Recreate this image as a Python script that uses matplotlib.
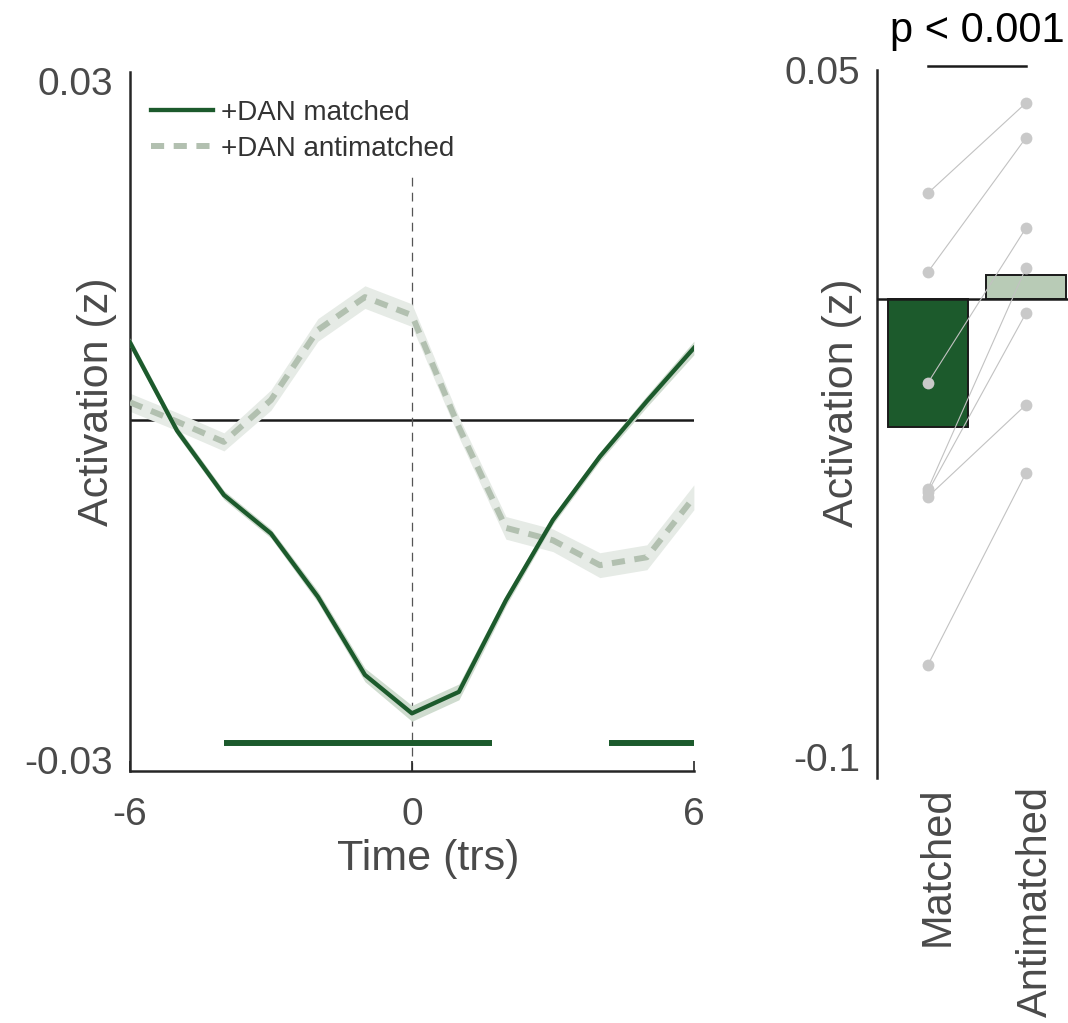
import matplotlib
matplotlib.use('Agg')
import matplotlib.pyplot as plt
import matplotlib.transforms as mtransforms
import numpy as np

plt.rcParams['font.family'] = ['Liberation Sans', 'DejaVu Sans']

# ---------------- data ----------------
time_trs = [-6, -5, -4, -3, -2, -1, 0, 1, 2, 3, 4, 5, 6]
matched = [0.0069, -0.0009, -0.0066, -0.0100, -0.0156, -0.0225, -0.0259,
           -0.0240, -0.0159, -0.0088, -0.0032, 0.0017, 0.0064]
matched_sem = [0.0004, 0.0004, 0.0004, 0.0004, 0.0005, 0.0006, 0.0007,
               0.0007, 0.0005, 0.0004, 0.0004, 0.0005, 0.0006]
antimatched = [0.0016, -0.0001, -0.0019, 0.0018, 0.0080, 0.0109, 0.0093,
               -0.0006, -0.0095, -0.0106, -0.0128, -0.0121, -0.0068]
antimatched_sem = [0.0008, 0.0008, 0.0008, 0.0009, 0.0010, 0.0010, 0.0010,
                   0.0009, 0.0010, 0.0010, 0.0011, 0.0011, 0.0011]
sig_segments = [(-4.0, 1.7), (4.2, 6.0)]
sig_level = -0.0285
legend_labels = ['+DAN matched', '+DAN antimatched']

bar_labels = ['Matched', 'Antimatched']
subj_matched = [0.0231, 0.0059, -0.0183, -0.0415, -0.0421, -0.0432, -0.0799]
subj_antimatched = [0.0428, 0.0352, 0.0155, 0.0068, -0.0031, -0.0231, -0.0380]
p_text = 'p < 0.001'

# ---------------- style ----------------
DARK = '#1c5a2c'
LIGHT = '#b2c0b0'
BAND_D = '#cfdccf'
BAND_L = '#e6ebe6'
TXT = '#4a4a4a'
SPINE = '#262626'
FS_TICK = 28
FS_LAB = 31

fig = plt.figure(figsize=(10.68, 10.23), dpi=100)

# ---------------- left panel ----------------
ax1 = fig.add_axes([0.1217, 0.2463, 0.528, 0.6833])
t = np.array(time_trs)
m = np.array(matched); ms = np.array(matched_sem)
a = np.array(antimatched); as_ = np.array(antimatched_sem)

ax1.set_xlim(-6, 6)
ax1.set_ylim(-0.031, 0.0308)

ax1.axhline(0, color='#1a1a1a', lw=1.8, zorder=1)
ax1.vlines(0, -0.031, 0.0215, colors='#555555', lw=0.9,
           linestyles=(0, (7, 5)), zorder=1)

ax1.fill_between(t, a - as_, a + as_, color=BAND_L, lw=0, zorder=2)
ax1.plot(t, a, color=LIGHT, lw=4.3, dashes=(2.2, 1.6), zorder=3,
         label=legend_labels[1], solid_capstyle='butt')
ax1.fill_between(t, m - ms, m + ms, color=BAND_D, lw=0, zorder=4)
ax1.plot(t, m, color=DARK, lw=3.1, zorder=5, label=legend_labels[0])

for s0, s1 in sig_segments:
    ax1.hlines(sig_level, s0, s1, colors=DARK, lw=4.3, zorder=5)

h, l = ax1.get_legend_handles_labels()
leg = ax1.legend([h[1], h[0]], [l[1], l[0]], loc='upper left',
                 bbox_to_anchor=(0.038, 0.960), frameon=False, fontsize=20,
                 handlelength=2.2, handletextpad=0.3, labelspacing=0.35,
                 borderpad=0, borderaxespad=0)
for txt in leg.get_texts():
    txt.set_color('#333333')

ax1.set_xticks([-6, 0, 6])
ax1.set_xticklabels(['-6', '0', '6'])
ax1.set_yticks([-0.03, 0.03])
ax1.set_yticklabels(['-0.03', '0.03'])
ax1.tick_params(axis='x', direction='in', length=7, width=1.2, pad=19,
                labelsize=FS_TICK, labelcolor=TXT, color=SPINE)
ax1.tick_params(axis='y', direction='in', length=0, pad=12,
                labelsize=FS_TICK, labelcolor=TXT)
for sp in ['top', 'right']:
    ax1.spines[sp].set_visible(False)
for sp in ['left', 'bottom']:
    ax1.spines[sp].set_linewidth(1.8)
    ax1.spines[sp].set_color(SPINE)
ax1.set_xlabel('Time (trs)', fontsize=FS_LAB, color=TXT)
ax1.xaxis.set_label_coords(0.528, -0.097)
ax1.set_ylabel('Activation (z)', fontsize=FS_LAB, color=TXT)
ax1.yaxis.set_label_coords(-0.023, 0.528)

# ---------------- right panel ----------------
ax2 = fig.add_axes([0.8211, 0.2395, 0.1789, 0.6921])
ax2.set_xlim(0.4796, 2.4286)
ax2.set_ylim(-0.1046, 0.05)
xpos = np.array([1, 2])
means = [np.mean(subj_matched), np.mean(subj_antimatched)]
ax2.bar(xpos, means, width=0.82, color=[DARK, '#b8cbb6'],
        edgecolor='#1a1a1a', linewidth=1.4, zorder=2)
ax2.axhline(0, color='#1a1a1a', lw=1.8, zorder=3)
for v0, v1 in zip(subj_matched, subj_antimatched):
    ax2.plot(xpos, [v0, v1], color='#c2c2c2', lw=0.8, zorder=4)
ax2.plot(np.full(len(subj_matched), xpos[0]), subj_matched, 'o',
         ms=8.5, color='#c9c9c9', mec='none', zorder=5)
ax2.plot(np.full(len(subj_antimatched), xpos[1]), subj_antimatched, 'o',
         ms=8.5, color='#c9c9c9', mec='none', zorder=5)

ax2.plot(xpos, [0.0509, 0.0509], color='#1a1a1a', lw=1.8, clip_on=False)
ax2.text(xpos.mean(), 0.0585, p_text, ha='center', va='center',
         fontsize=30, color='black', clip_on=False)

ax2.set_yticks([-0.1, 0.05])
ax2.set_yticklabels(['-0.1', '0.05'])
ax2.set_xticks(xpos)
ax2.set_xticklabels(bar_labels, rotation=90)
ax2.tick_params(axis='y', direction='in', length=0, pad=12,
                labelsize=FS_TICK, labelcolor=TXT)
ax2.tick_params(axis='x', length=0, pad=6, labelsize=30, labelcolor=TXT)
shift = mtransforms.ScaledTranslation(10 / 100, 0, fig.dpi_scale_trans)
for lab in ax2.get_xticklabels():
    lab.set_transform(lab.get_transform() + shift)
for sp in ['top', 'right', 'bottom']:
    ax2.spines[sp].set_visible(False)
ax2.spines['left'].set_linewidth(1.8)
ax2.spines['left'].set_color(SPINE)
ax2.set_ylabel('Activation (z)', fontsize=FS_LAB, color=TXT)
ax2.yaxis.set_label_coords(-0.08, 0.530)

fig.savefig('out.png', dpi=100)
